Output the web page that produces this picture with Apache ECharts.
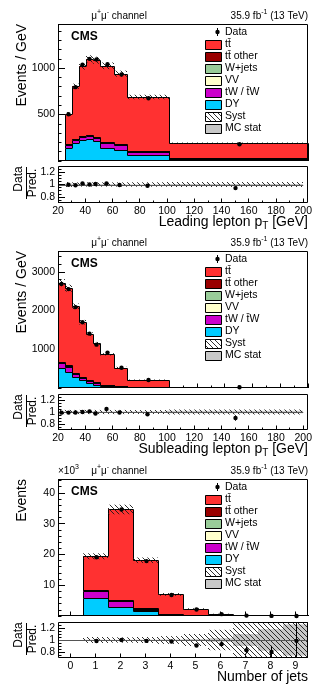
<!DOCTYPE html>
<html><head><meta charset="utf-8">
<script src="https://cdn.jsdelivr.net/npm/echarts@6/dist/echarts.min.js"></script>
<style>html,body{margin:0;padding:0;background:#fff}#c{width:315px;height:686px}</style>
</head><body><div id="c"></div>
<script>
// ===== Panel 1: leading lepton pT (events / GeV)
const lead_edges   = [25, 30, 35, 40, 45, 50, 60, 70, 100, 200];
const lead_tt      = [325, 569, 749, 815, 823, 818, 758, 578, 165];
const lead_ttOther = [8, 10, 12, 12, 12, 11, 10, 7, 2];
const lead_wjets   = [1, 1, 1, 1, 1, 1, 1, 1, 0.3];
const lead_vv      = [3, 3, 3, 3, 3, 3, 3, 2, 1];
const lead_tw      = [28, 28, 25, 28, 34, 52, 46, 34, 10];
const lead_dy      = [140, 194, 230, 241, 212, 140, 122, 68, 14];
const lead_data    = [503, 795, 1038, 1100, 1094, 1042, 932, 676, 181];
const lead_dataErr = [0.02, 0.015, 0.013, 0.013, 0.013, 0.01, 0.01, 0.008, 0.01];
const lead_syst    = [0.04, 0.035, 0.035, 0.035, 0.035, 0.035, 0.035, 0.035, 0.04];
const lead_stat    = [0.015, 0.01, 0.008, 0.008, 0.008, 0.007, 0.007, 0.006, 0.008];

// ===== Panel 2: subleading lepton pT (events / GeV)
const sub_edges   = [20, 25, 30, 35, 40, 45, 50, 60, 70, 100, 200];
const sub_tt      = [2039, 1992, 1716, 1421, 1192, 1006, 781, 480, 194, 15.4];
const sub_ttOther = [30, 28, 22, 18, 14, 12, 9, 6, 2, 0.3];
const sub_wjets   = [3, 3, 2, 2, 1, 1, 1, 0.5, 0.3, 0.1];
const sub_vv      = [8, 7, 5, 4, 3, 3, 2, 1, 1, 0.2];
const sub_tw      = [130, 140, 85, 60, 52, 43, 27, 17, 8, 2];
const sub_dy      = [510, 410, 280, 195, 128, 85, 50, 25, 10, 2];
const sub_data    = [2690, 2555, 2090, 1700, 1405, 1120, 915, 525, 207, 18];
const sub_dataErr = [0.01, 0.01, 0.01, 0.012, 0.013, 0.015, 0.012, 0.015, 0.015, 0.05];
const sub_syst    = [0.035, 0.035, 0.035, 0.035, 0.035, 0.035, 0.035, 0.035, 0.035, 0.04];
const sub_stat    = [0.008, 0.008, 0.008, 0.008, 0.008, 0.008, 0.008, 0.008, 0.01, 0.02];

// ===== Panel 3: number of jets (x10^3 events)
const nj_bins    = [0, 1, 2, 3, 4, 5, 6, 7, 8, 9];
const nj_tt      = [0, 10.88, 29.27, 15.66, 6.385, 2.116, 0.602, 0.148, 0.032, 0.0068];
const nj_ttOther = [0, 0.25, 0.45, 0.3, 0.15, 0.06, 0.02, 0.006, 0.001, 0.0002];
const nj_wjets   = [0, 0.05, 0.02, 0.01, 0.005, 0.001, 0, 0, 0, 0];
const nj_vv      = [0, 0.12, 0.06, 0.03, 0.01, 0.003, 0.001, 0, 0, 0];
const nj_tw      = [0, 2.25, 1.9, 0.5, 0.15, 0.05, 0.012, 0.003, 0.001, 0];
const nj_dy      = [0, 5.85, 2.9, 1.6, 0.3, 0.07, 0.015, 0.003, 0.001, 0];
const nj_data    = [null, 19.1, 34.6, 17.83, 6.83, 2.09, 0.605, 0.133, 0.028, 0.0069];
const nj_dataErr = [0, 0.007, 0.005, 0.007, 0.012, 0.022, 0.04, 0.07, 0.13, 0.3];
const nj_syst    = [0, 0.05, 0.045, 0.05, 0.065, 0.1, 0.17, 0.28, 0.35, 0.4];
const nj_stat    = [0, 0.004, 0.003, 0.005, 0.008, 0.015, 0.03, 0.1, 0.18, 0.26];

// tick values
const ratioTicks = [0.8, 1, 1.2];
const ratioMinorTicks = [0.75, 0.85, 0.9, 0.95, 1.05, 1.1, 1.15, 1.25];

const legendLabels = ['Data', 'tt\u0304', 'tt\u0304 other', 'W+jets', 'VV', 'tW / t\u0304W', 'DY', 'Syst', 'MC stat'];

const FONT = '"Liberation Sans", Arial, Helvetica, sans-serif';
const COL = {tt:'#ff3131', ttOther:'#990000', wjets:'#99cc99', vv:'#ffffcc', tw:'#cc00cc', dy:'#00ccff', stat:'#c8c8c8'};

function makeHatch(){
  const c = document.createElement('canvas'); c.width = 5; c.height = 5;
  const g = c.getContext('2d'); g.strokeStyle = '#1a1a1a'; g.lineWidth = 0.9;
  g.beginPath(); g.moveTo(-1,-1); g.lineTo(6,6); g.moveTo(-1,4); g.lineTo(1,6); g.moveTo(4,-1); g.lineTo(6,1); g.stroke();
  return c;
}
const HATCH = {image: makeHatch(), repeat: 'repeat'};

const mctx = document.createElement('canvas').getContext('2d');
function tw(t, s, w){ mctx.font = (w||'normal') + ' ' + s + 'px ' + FONT; return mctx.measureText(t).width; }

function edgesFromCenters(c){ const e = c.map(v => v - 0.5); e.push(c[c.length-1] + 0.5); return e; }

const panels = [
  {edges: lead_edges, layers: [[lead_dy,COL.dy],[lead_tw,COL.tw],[lead_vv,COL.vv],[lead_wjets,COL.wjets],[lead_ttOther,COL.ttOther],[lead_tt,COL.tt]],
   data: lead_data, dErr: lead_dataErr, syst: lead_syst, stat: lead_stat,
   xmin:20, xmax:200, xint:20, xminor:2, ymax:1475, yint:500, yminor:100,
   ytitle:'Events / GeV', xtitle:[{t:'Leading lepton p',s:14},{t:'T',s:10,dy:4},{t:' [GeV]',s:14}]},
  {edges: sub_edges, layers: [[sub_dy,COL.dy],[sub_tw,COL.tw],[sub_vv,COL.vv],[sub_wjets,COL.wjets],[sub_ttOther,COL.ttOther],[sub_tt,COL.tt]],
   data: sub_data, dErr: sub_dataErr, syst: sub_syst, stat: sub_stat,
   xmin:20, xmax:200, xint:20, xminor:2, ymax:3540, yint:1000, yminor:200,
   ytitle:'Events / GeV', xtitle:[{t:'Subleading lepton p',s:14},{t:'T',s:10,dy:4},{t:' [GeV]',s:14}]},
  {edges: edgesFromCenters(nj_bins), centers: nj_bins, layers: [[nj_dy,COL.dy],[nj_tw,COL.tw],[nj_vv,COL.vv],[nj_wjets,COL.wjets],[nj_ttOther,COL.ttOther],[nj_tt,COL.tt]],
   data: nj_data, dErr: nj_dataErr, syst: nj_syst, stat: nj_stat,
   xmin:-0.5, xmax:9.5, xCustom: nj_bins, ymax:44.5, yint:10, yminor:2, expo:true,
   ytitle:'Events', xtitle:[{t:'Number of jets',s:14}]}
];

const geo = [
  {top:24, h:137, rTop:166, rH:37},
  {top:251, h:137, rTop:394, rH:36},
  {top:479, h:137, rTop:622, rH:36}
];
const GL = 58, GW = 250;

const grids = [], xAxes = [], yAxes = [], series = [], graphics = [];
const tickStyle = {color:'#000', width:1};
const labelBase = {color:'#000', fontFamily:FONT, fontSize:10.5};
const noLine = {show:false, onZero:false};

function xAxisCfg(gi, p, showLabels){
  const a = {gridIndex:gi, type:'value', position:'bottom', min:p.xmin, max:p.xmax, axisLine:noLine, splitLine:{show:false},
    axisTick:{show:true, inside:true, length:4.5, lineStyle:tickStyle},
    axisLabel:Object.assign({show:showLabels, margin:3, formatter:v=>String(v)}, labelBase)};
  if (p.xCustom){ a.axisTick.customValues = p.xCustom; a.axisLabel.customValues = p.xCustom; }
  else { a.interval = p.xint; a.minorTick = {show:true, splitNumber:p.xminor, length:2.5, lineStyle:tickStyle}; }
  return a;
}

let zc = 10;
function layerSeries(xi, yi, edges, cum, color){
  const n = cum.length;
  return {type:'custom', xAxisIndex:xi, yAxisIndex:yi, z: zc++, silent:true, animation:false,
    data: cum.map((v,i) => [edges[i], edges[i+1], v, i ? cum[i-1] : 0, i === n-1 ? 1 : 0]),
    renderItem: (params, api) => {
      const a = api.coord([api.value(0), api.value(2)]);
      const b = api.coord([api.value(1), 0]);
      const c = api.coord([api.value(0), api.value(3)]);
      const x0 = Math.round(a[0]), x1 = Math.round(b[0]);
      const yt = Math.round(a[1]), yb = Math.round(b[1]), yp = Math.round(c[1]);
      const ch = [];
      if (yb > yt) ch.push({type:'rect', shape:{x:x0, y:yt, width:x1-x0, height:yb-yt}, style:{fill:color}});
      const pts = [[x0+0.5, Math.min(yp,yb-1)+0.5], [x0+0.5, Math.min(yt,yb-1)+0.5], [x1+0.5, Math.min(yt,yb-1)+0.5]];
      if (api.value(4) === 1) pts.push([x1+0.5, yb]);
      ch.push({type:'polyline', shape:{points:pts}, style:{stroke:'#000', lineWidth:1, fill:null}});
      return {type:'group', children:ch};
    }};
}

function bandSeries(xi, yi, items, fill, z){
  return {type:'custom', xAxisIndex:xi, yAxisIndex:yi, z, silent:true, animation:false, data: items,
    renderItem: (params, api) => {
      const cs = params.coordSys;
      const a = api.coord([api.value(0), api.value(3)]);
      const b = api.coord([api.value(1), api.value(2)]);
      const r = {x:Math.round(a[0]), y:a[1], width:Math.round(b[0])-Math.round(a[0]), height:b[1]-a[1]};
      const cl = echarts.graphic.clipRectByRect(r, {x:cs.x, y:cs.y, width:cs.width, height:cs.height});
      if (!cl) return null;
      return {type:'rect', shape:cl, style:{fill}};
    }};
}

function pointSeries(xi, yi, pts, z){
  return {type:'custom', xAxisIndex:xi, yAxisIndex:yi, z, silent:true, animation:false, data: pts,
    renderItem: (params, api) => {
      const cs = params.coordSys;
      const c = api.coord([api.value(0), api.value(1)]);
      const lo = api.coord([api.value(0), api.value(2)]);
      const hi = api.coord([api.value(0), api.value(3)]);
      const yTop = Math.max(cs.y, hi[1]), yBot = Math.min(cs.y + cs.height, lo[1]);
      const x = Math.round(c[0]) + 0.5;
      const ch = [];
      if (yBot > yTop) ch.push({type:'line', shape:{x1:x, y1:yTop, x2:x, y2:yBot}, style:{stroke:'#000', lineWidth:1}});
      if (c[1] >= cs.y && c[1] <= cs.y + cs.height) ch.push({type:'circle', shape:{cx:x, cy:c[1], r:2.2}, style:{fill:'#000'}});
      return {type:'group', children:ch};
    }};
}

function textRun(parts, x, y, align){
  const ws = parts.map(p => tw(p.t, p.s, p.w));
  const tot = ws.reduce((s,v) => s+v, 0);
  let cx = align === 'right' ? x - tot : (align === 'center' ? x - tot/2 : x);
  parts.forEach((p,i) => {
    graphics.push({type:'text', x:cx, y:y + (p.dy||0), z:100, silent:true,
      style:{text:p.t, font:(p.w||'normal') + ' ' + p.s + 'px ' + FONT, fill:'#000', align:'left', verticalAlign:'middle', textAlign:'left', textVerticalAlign:'middle'}});
    cx += ws[i];
  });
}

panels.forEach((p, k) => {
  const g = geo[k];
  const gm = grids.length; grids.push({left:GL, top:g.top, width:GW, height:g.h, show:false});
  const gr = grids.length; grids.push({left:GL, top:g.rTop, width:GW, height:g.rH, show:false});
  const xm = xAxes.length; xAxes.push(xAxisCfg(gm, p, false));
  const xr = xAxes.length; xAxes.push(xAxisCfg(gr, p, true));
  const ym = yAxes.length;
  yAxes.push({gridIndex:gm, type:'value', position:'left', min:0, max:p.ymax, interval:p.yint, axisLine:noLine, splitLine:{show:false},
    axisTick:{inside:true, length:7, lineStyle:tickStyle},
    axisLabel:Object.assign({margin:3, showMinLabel:false, showMaxLabel:false, formatter:v=>String(v)}, labelBase)});
  yAxes.push({gridIndex:gm, type:'value', position:'left', min:0, max:p.ymax, interval:p.yminor, axisLine:noLine, splitLine:{show:false},
    axisTick:{inside:true, length:3.5, lineStyle:tickStyle}, axisLabel:{show:false}});
  const yr = yAxes.length;
  yAxes.push({gridIndex:gr, type:'value', position:'left', min:0.7, max:1.3, axisLine:noLine, splitLine:{show:false},
    axisTick:{inside:true, length:7, lineStyle:tickStyle, customValues:ratioTicks},
    axisLabel:Object.assign({margin:3, customValues:ratioTicks, formatter:v=>String(Math.round(v*10)/10)}, labelBase)});
  yAxes.push({gridIndex:gr, type:'value', position:'left', min:0.7, max:1.3, axisLine:noLine, splitLine:{show:false},
    axisTick:{inside:true, length:3.5, lineStyle:tickStyle, customValues:ratioMinorTicks}, axisLabel:{show:false}});

  const n = p.layers[0][0].length;
  const cum = []; let run = new Array(n).fill(0);
  p.layers.forEach(L => { run = run.map((v,i) => v + L[0][i]); cum.push(run.slice()); });
  const total = cum[cum.length-1];
  for (let j = cum.length-1; j >= 0; j--) series.push(layerSeries(xm, ym, p.edges, cum[j], p.layers[j][1]));

  const centers = p.centers || p.edges.slice(0,-1).map((e,i) => (e + p.edges[i+1]) / 2);
  const hatchMain = [], statR = [], systR = [], ptsMain = [], ptsR = [];
  for (let i = 0; i < n; i++){
    if (total[i] > 0){
      hatchMain.push([p.edges[i], p.edges[i+1], total[i]*(1-p.syst[i]), total[i]*(1+p.syst[i])]);
      statR.push([p.edges[i], p.edges[i+1], 1-p.stat[i], 1+p.stat[i]]);
      systR.push([p.edges[i], p.edges[i+1], 1-p.syst[i], 1+p.syst[i]]);
    }
    if (p.data[i] != null){
      const d = p.data[i], e = p.dErr[i];
      ptsMain.push([centers[i], d, d*(1-e), d*(1+e)]);
      if (total[i] > 0){ const r = d / total[i]; ptsR.push([centers[i], r, r*(1-e), r*(1+e)]); }
    }
  }
  series.push(bandSeries(xm, ym, hatchMain, HATCH, 40));
  series.push(pointSeries(xm, ym, ptsMain, 50));
  series.push(bandSeries(xr, yr, statR, COL.stat, 40));
  series.push(bandSeries(xr, yr, systR, HATCH, 41));
  series.push({type:'custom', xAxisIndex:xr, yAxisIndex:yr, z:45, silent:true, animation:false, data:[[p.xmin, p.xmax, 1]],
    renderItem:(params, api) => {
      const a = api.coord([api.value(0), api.value(2)]), b = api.coord([api.value(1), api.value(2)]);
      const y = Math.round(a[1]) + 0.5;
      return {type:'line', shape:{x1:a[0], y1:y, x2:b[0], y2:y}, style:{stroke:'#555', lineWidth:1}};
    }});
  series.push(pointSeries(xr, yr, ptsR, 50));

  // frames
  graphics.push({type:'rect', z:100, silent:true, shape:{x:GL+0.5, y:g.top+0.5, width:GW-1, height:g.h-1}, style:{fill:'none', stroke:'#000', lineWidth:1}});
  graphics.push({type:'rect', z:100, silent:true, shape:{x:GL+0.5, y:g.rTop+0.5, width:GW-1, height:g.rH-1}, style:{fill:'none', stroke:'#000', lineWidth:1}});

  // header texts
  const hy = g.top - 8;
  textRun([{t:'\u03bc',s:10},{t:'+',s:7,dy:-3.5},{t:'\u03bc',s:10},{t:'-',s:7,dy:-3.5},{t:' channel',s:10}], 119, hy, 'center');
  textRun([{t:'35.9 fb',s:10},{t:'-1',s:7,dy:-3.5},{t:' (13 TeV)',s:10}], 308, hy, 'right');
  if (p.expo) textRun([{t:'\u00d710',s:10},{t:'3',s:7,dy:-3.5}], 58, hy, 'left');
  textRun([{t:'CMS',s:12,w:'bold'}], 71, g.top + 13, 'left');

  // y title
  graphics.push({type:'text', x:22, y:g.top, rotation:Math.PI/2, z:100, silent:true,
    style:{text:p.ytitle, font:'14px ' + FONT, fill:'#000', align:'right', verticalAlign:'middle', textAlign:'right', textVerticalAlign:'middle'}});
  // ratio title
  graphics.push({type:'text', x:19, y:g.rTop + 13, rotation:Math.PI/2, z:100, silent:true,
    style:{text:'Data', font:'12px ' + FONT, fill:'#000', align:'center', verticalAlign:'middle', textAlign:'center', textVerticalAlign:'middle'}});
  graphics.push({type:'text', x:33, y:g.rTop + 17, rotation:Math.PI/2, z:100, silent:true,
    style:{text:'Pred.', font:'12px ' + FONT, fill:'#000', align:'center', verticalAlign:'middle', textAlign:'center', textVerticalAlign:'middle'}});
  graphics.push({type:'line', z:100, silent:true, shape:{x1:26.5, y1:g.rTop + 1, x2:26.5, y2:g.rTop + 33}, style:{stroke:'#000', lineWidth:1}});
  // x title
  textRun(p.xtitle, 308, g.rTop + g.rH + 19, 'right');

  // legend
  const fills = [null, COL.tt, COL.ttOther, COL.wjets, COL.vv, COL.tw, COL.dy, HATCH, COL.stat];
  legendLabels.forEach((lab, m) => {
    const ry = g.top + 8 + 12 * m;
    if (m === 0){
      graphics.push({type:'line', z:100, silent:true, shape:{x1:217.5, y1:ry-4, x2:217.5, y2:ry+4}, style:{stroke:'#000', lineWidth:1}});
      graphics.push({type:'circle', z:100, silent:true, shape:{cx:217.5, cy:ry, r:2.2}, style:{fill:'#000'}});
    } else {
      graphics.push({type:'rect', z:100, silent:true, shape:{x:205.5, y:Math.round(ry-4.5)+0.5, width:16, height:9}, style:{fill:fills[m], stroke:'#000', lineWidth:1}});
    }
    textRun([{t:lab, s:10.5}], 225, ry, 'left');
  });
});

const chart = echarts.init(document.getElementById('c'), null, {renderer:'canvas', width:315, height:686});
chart.setOption({
  animation:false,
  backgroundColor:'#fff',
  textStyle:{fontFamily:FONT},
  grid: grids, xAxis: xAxes, yAxis: yAxes, series: series,
  graphic: {elements: graphics}
});
</script></body></html>
